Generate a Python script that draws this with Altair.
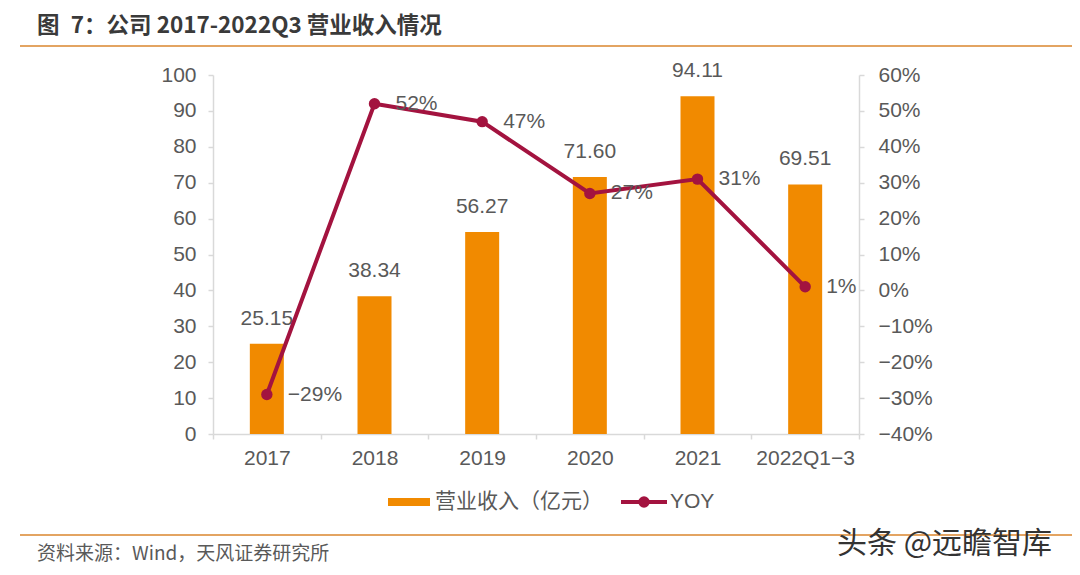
import altair as alt
import pandas as pd

years = ["2017", "2018", "2019", "2020", "2021", "2022Q1−3"]
revenue = [25.15, 38.34, 56.27, 71.60, 94.11, 69.51]
yoy = [-0.29, 0.52, 0.47, 0.27, 0.31, 0.01]

title_text = "图\u20027：公司 2017-2022Q3 营业收入情况"
source_text = "资料来源：Wind，天风证券研究所"
watermark_text = "头条 @远瞻智库"
legend_bar = "营业收入（亿元）"
legend_line = "YOY"

ORANGE = "#F18A00"
RED = "#A3133F"
GRAY = "#595959"
AXIS = "#D9D9D9"
RULE = "#E3A462"
FONT = "Liberation Sans, Noto Sans CJK SC"
CJK = "Noto Sans CJK SC"

df = pd.DataFrame({"year": years, "revenue": revenue, "yoy": yoy})
one = pd.DataFrame({"a": [0]})

W, H = 646, 359

x = alt.X("year:N", sort=years, title=None,
          scale=alt.Scale(paddingInner=0, paddingOuter=0),
          axis=alt.Axis(labelAngle=0, labelFontSize=21, labelColor=GRAY, labelFont=FONT,
                        domainColor=AXIS, tickColor=AXIS, tickSize=5, tickBand="extent",
                        labelPadding=8, domainWidth=1.5, tickWidth=1.5))

y_left = alt.Y("revenue:Q", title=None,
               scale=alt.Scale(domain=[0, 100], nice=False, zero=True),
               axis=alt.Axis(values=list(range(0, 101, 10)), labelFontSize=21, labelColor=GRAY,
                             labelFont=FONT, domainColor=AXIS, tickColor=AXIS, tickSize=5,
                             labelPadding=12, grid=False, domainWidth=1.5, tickWidth=1.5))

bars = alt.Chart(df).mark_bar(color=ORANGE, size=34).encode(x=x, y=y_left)
bar_text = alt.Chart(df).mark_text(fontSize=21, color=GRAY, font=FONT, dy=-19,
                                   baseline="alphabetic").encode(
    x=x, y=y_left,
    text=alt.Text("revenue:Q", format=".2f"))

left = alt.layer(bars, bar_text)

y_right = alt.Y("yoy:Q", title=None,
                scale=alt.Scale(domain=[-0.4, 0.6], nice=False, zero=False),
                axis=alt.Axis(orient="right", format=".0%",
                              values=[-0.4, -0.3, -0.2, -0.1, 0, 0.1, 0.2, 0.3, 0.4, 0.5, 0.6],
                              labelFontSize=21, labelColor=GRAY, labelFont=FONT,
                              domainColor=AXIS, tickColor=AXIS, tickSize=5, labelPadding=14,
                              grid=False, domainWidth=1.5, tickWidth=1.5))

line = alt.Chart(df).mark_line(color=RED, strokeWidth=4).encode(x=x, y=y_right)
pts = alt.Chart(df).mark_point(color=RED, filled=True, size=130, opacity=1).encode(
    x=x, y=y_right)
line_text = alt.Chart(df).mark_text(fontSize=21, color=GRAY, font=FONT, align="left",
                                    baseline="middle", dx=21).encode(
    x=x, y=y_right,
    text=alt.Text("yoy:Q", format=".0%"))

right = alt.layer(line, pts, line_text)

main = alt.layer(left, right).resolve_scale(y="independent")

# annotations (title, legend, source, rules)
title = alt.Chart(one).mark_text(text=title_text, fontSize=22.5, fontWeight="bold", color="#3A3A3A",
                                 font=CJK, align="left", baseline="middle").encode(
    x=alt.value(-176), y=alt.value(-49))
top_rule = alt.Chart(one).mark_rule(color=RULE, strokeWidth=2).encode(
    x=alt.value(-193), x2=alt.value(859), y=alt.value(-29))
bot_rule = alt.Chart(one).mark_rule(color=RULE, strokeWidth=2).encode(
    x=alt.value(-193), x2=alt.value(859), y=alt.value(460))
source = alt.Chart(one).mark_text(text=source_text, fontSize=19, color=GRAY, font=CJK,
                                  align="left", baseline="middle").encode(
    x=alt.value(-176), y=alt.value(479))
water = alt.Chart(one).mark_text(text=watermark_text, fontSize=30, color="#333333", font=CJK,
                                 align="left", baseline="middle").encode(
    x=alt.value(624), y=alt.value(469))
leg_rect = alt.Chart(one).mark_rect(color=ORANGE).encode(
    x=alt.value(175), x2=alt.value(217), y=alt.value(423), y2=alt.value(431))
leg_rect_t = alt.Chart(one).mark_text(text=legend_bar, fontSize=21, color=GRAY, font=CJK,
                                      align="left", baseline="middle").encode(
    x=alt.value(222), y=alt.value(427))
leg_line = alt.Chart(one).mark_rule(color=RED, strokeWidth=4).encode(
    x=alt.value(408), x2=alt.value(454), y=alt.value(427))
leg_pt = alt.Chart(one).mark_point(color=RED, filled=True, size=130, opacity=1).encode(
    x=alt.value(431), y=alt.value(427))
leg_line_t = alt.Chart(one).mark_text(text=legend_line, fontSize=21, color=GRAY, font=FONT,
                                      align="left", baseline="middle").encode(
    x=alt.value(457), y=alt.value(427))

chart = alt.layer(main, title, top_rule, bot_rule, source, water,
                  leg_rect, leg_rect_t, leg_line, leg_pt, leg_line_t).properties(
    width=W, height=H,
    autosize=alt.AutoSizeParams(type="none"),
    padding={"left": 205, "top": 67, "right": 1064 - 205 - W, "bottom": 559 - 67 - H},
    background="white",
).configure_view(stroke=None)

chart.save("out.html", embed_options={"renderer": "svg", "actions": False})
